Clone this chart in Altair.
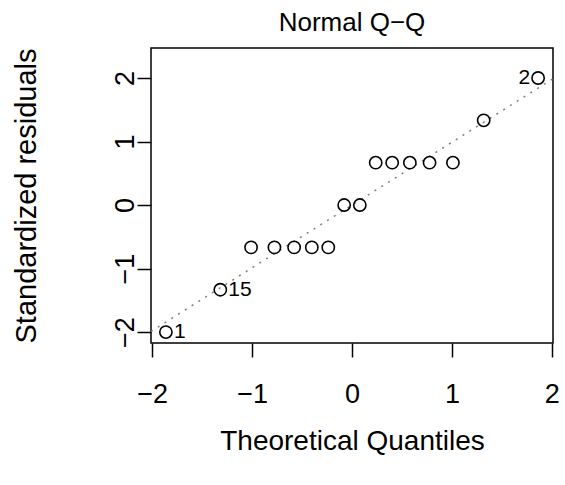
import altair as alt
import pandas as pd
import numpy as np

# Theoretical quantiles (x) and standardized residuals (y)
theoretical = [-1.8627, -1.3180, -1.0100, -0.7764, -0.5791, -0.4023, -0.2372, -0.0784,
               0.0784, 0.2372, 0.4023, 0.5791, 0.7764, 1.0100, 1.3180, 1.8627]
std_resid = [-2.0, -1.3333, -0.6667, -0.6667, -0.6667, -0.6667, -0.6667, 0.0,
             0.0, 0.6667, 0.6667, 0.6667, 0.6667, 0.6667, 1.3333, 2.0]
point_label = ["1", "15", "", "", "", "", "", "", "", "", "", "", "", "", "", "2"]
x_ticks = [-2, -1, 0, 1, 2]
y_ticks = [-2, -1, 0, 1, 2]

df = pd.DataFrame({"x": theoretical, "y": std_resid, "lab": point_label})
df["side"] = np.where(df["x"] < df["x"].mean(), "right", "left")

# axis limits like R: 4% padding, extra 7.5% headroom on y for labels
xlo, xhi = min(theoretical), max(theoretical)
xr = xhi - xlo
xdom = [xlo - 0.04 * xr, xhi + 0.04 * xr]
ylo, yhi = min(std_resid), max(std_resid)
yhi = yhi + 0.075 * (yhi - ylo)
yr = yhi - ylo
ydom = [ylo - 0.04 * yr, yhi + 0.04 * yr]

# qqline through the quartiles
q25, q75 = np.percentile(std_resid, [25, 75])
z25, z75 = -0.6744898, 0.6744898
slope = (q75 - q25) / (z75 - z25)
intercept = q25 - slope * z25
line_df = pd.DataFrame({"x": xdom, "y": [intercept + slope * v for v in xdom]})

FONT = "Liberation Sans"
TICK_FS = 27
TITLE_FS = 28

xscale = alt.Scale(domain=xdom, nice=False, zero=False)
yscale = alt.Scale(domain=ydom, nice=False, zero=False)

xaxis = alt.Axis(values=x_ticks, format="d", title="Theoretical Quantiles", grid=False, domain=False,
                 tickSize=14, tickWidth=1.5, tickColor="black",
                 labelFont=FONT, labelFontSize=TICK_FS, labelColor="black", labelPadding=24,
                 labelFlush=False, labelOverlap=False,
                 titleFont=FONT, titleFontSize=TITLE_FS, titleFontWeight="normal",
                 titleColor="black", titlePadding=20)
yaxis = alt.Axis(values=y_ticks, format="d", title="Standardized residuals", grid=False, domain=False,
                 tickSize=14, tickWidth=1.5, tickColor="black",
                 labelFont=FONT, labelFontSize=TICK_FS, labelColor="black", labelPadding=4,
                 labelAngle=270, labelAlign="center", labelBaseline="alphabetic",
                 labelFlush=False, labelOverlap=False,
                 titleFont=FONT, titleFontSize=29, titleFontWeight="normal",
                 titleColor="black", titlePadding=70)

line = alt.Chart(line_df).mark_line(color="#7f7f7f", strokeDash=[2, 6], strokeWidth=1.5,
                                    clip=True).encode(
    x=alt.X("x:Q", scale=xscale, axis=xaxis),
    y=alt.Y("y:Q", scale=yscale, axis=yaxis),
)

points = alt.Chart(df).mark_point(shape="circle", filled=False, color="black",
                                  strokeWidth=1.6, size=150, opacity=1).encode(
    x=alt.X("x:Q", scale=xscale),
    y=alt.Y("y:Q", scale=yscale),
)

lab_right = alt.Chart(df).transform_filter(
    (alt.datum.lab != "") & (alt.datum.side == "right")
).mark_text(align="left", baseline="middle", dx=8, font=FONT, fontSize=21, color="black").encode(
    x=alt.X("x:Q", scale=xscale), y=alt.Y("y:Q", scale=yscale), text="lab:N")

lab_left = alt.Chart(df).transform_filter(
    (alt.datum.lab != "") & (alt.datum.side == "left")
).mark_text(align="right", baseline="middle", dx=-8, font=FONT, fontSize=21, color="black").encode(
    x=alt.X("x:Q", scale=xscale), y=alt.Y("y:Q", scale=yscale), text="lab:N")

chart = alt.layer(line, points, lab_right, lab_left).properties(
    width=402, height=295,
    title=alt.TitleParams("Normal Q\u2212Q", font=FONT, fontSize=26, fontWeight="normal",
                          color="black", anchor="middle", offset=12),
    autosize=alt.AutoSizeParams(type="none"),
    padding={"left": 151, "top": 48, "right": 12, "bottom": 142},
    background="white",
).configure_view(stroke="black", strokeWidth=1.5)

chart.save("out.html", embed_options={"renderer": "svg", "actions": False})
